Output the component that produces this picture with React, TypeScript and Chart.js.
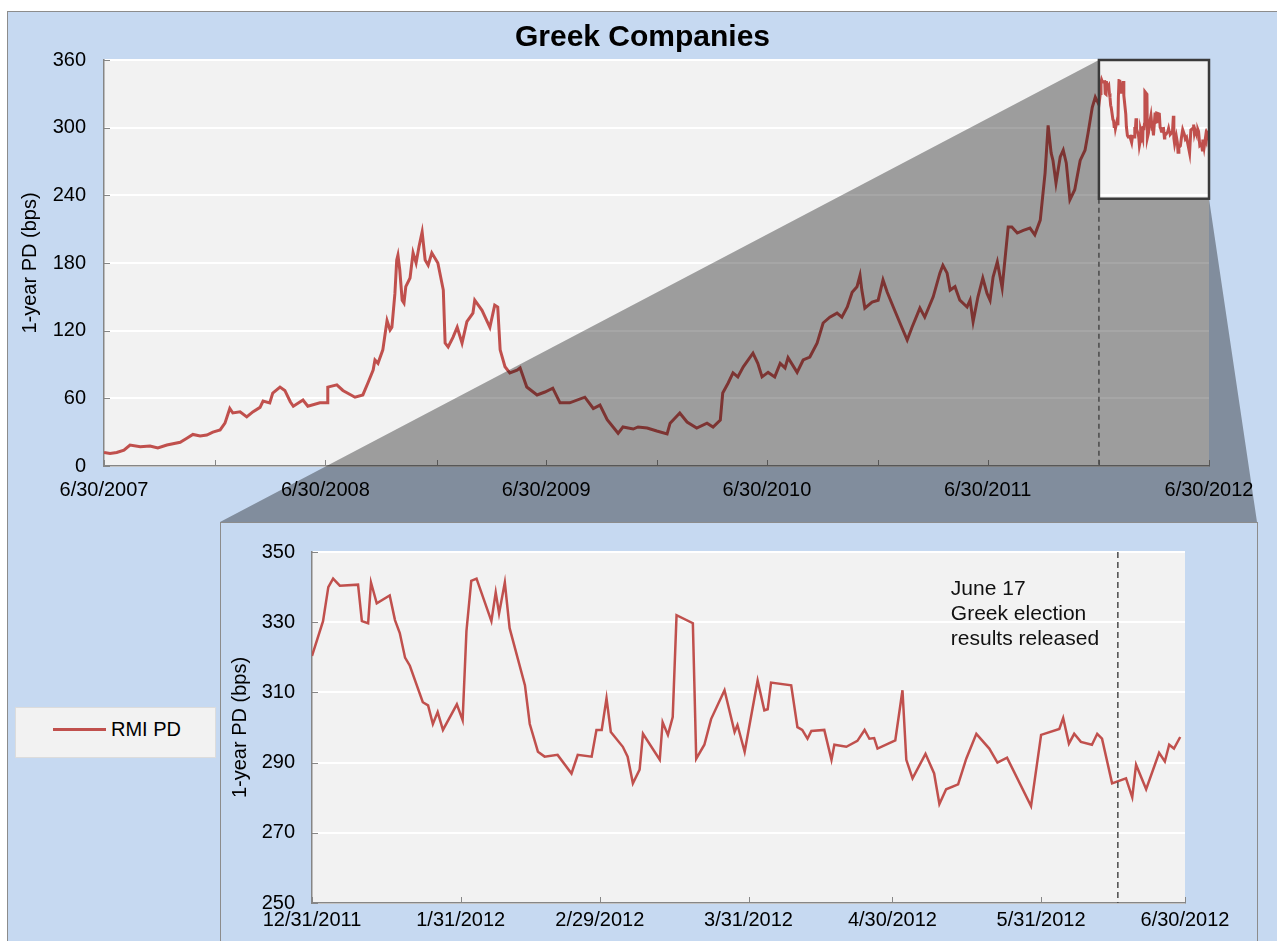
import React, { useEffect, useRef } from "react";
import { Chart, registerables } from "chart.js";

Chart.register(...registerables);

const FONT = '"Liberation Sans", Arial, Helvetica, sans-serif';
const BLUE = "#c6d9f1";
const LINE_COLOR = "#c0504d";
const AXIS_COLOR = "#868686";

// ---------- Top chart (days since 6/30/2007) ----------
const TOP_BASE = "2007-06-30";
const topTickDates = [
  "2007-06-30", "2007-12-31", "2008-06-30", "2008-12-31", "2009-06-30", "2009-12-31",
  "2010-06-30", "2010-12-31", "2011-06-30", "2011-12-31", "2012-06-30",
];
const topTickLabels = [
  "6/30/2007", "", "6/30/2008", "", "6/30/2009", "", "6/30/2010", "", "6/30/2011", "", "6/30/2012",
];
const topYTicks = [0, 60, 120, 180, 240, 300, 360];

const topDays = [
  0, 10, 21, 33, 43, 60, 76, 89, 104, 126,
  137, 147, 159, 170, 180, 192, 200, 208, 213, 225,
  236, 246, 258, 263, 274, 279, 291, 299, 308, 313,
  329, 337, 357, 369, 370, 385, 395, 415, 428, 437,
  445, 448, 453, 461, 465, 468, 473, 476, 481, 484,
  486, 489, 493, 496, 499, 506, 511, 516, 521, 526,
  531, 536, 542, 552, 561, 564, 569, 577, 584, 592,
  600, 610, 613, 625, 638, 646, 651, 655, 663, 671,
  683, 688, 699, 716, 729, 742, 754, 770, 795, 809,
  820, 832, 850, 858, 875, 883, 898, 914, 931, 936,
  952, 964, 980, 997, 1007, 1019, 1023, 1032, 1040, 1048,
  1057, 1073, 1081, 1088, 1098, 1109, 1118, 1126, 1131, 1146,
  1156, 1167, 1179, 1189, 1200, 1212, 1220, 1229, 1237, 1245,
  1250, 1253, 1258, 1270, 1280, 1288, 1295, 1305, 1319, 1328,
  1336, 1349, 1357, 1371, 1382, 1387, 1394, 1399, 1407, 1415,
  1427, 1432, 1437, 1445, 1453, 1460, 1465, 1470, 1477, 1485,
  1490, 1495, 1501, 1510, 1520, 1531, 1539, 1548, 1556, 1561,
  1566, 1569, 1574, 1581, 1586, 1591, 1597, 1605, 1614, 1622,
  1627, 1634, 1639,
];
const topValues = [
  12, 11, 12, 14, 18.6, 17, 17.7, 16, 18.6, 21,
  24.6, 28, 26.6, 27.5, 30, 32, 38, 51, 47, 48,
  43.5, 48, 52, 57.6, 56, 64.7, 70, 67, 57, 53,
  58.5, 53, 56, 56, 70, 72, 67, 61, 63, 74.5,
  85, 94, 91, 103, 118, 129, 120.6, 123, 153, 182.7,
  187, 174, 147, 144.5, 159, 166.7, 189, 180, 195, 207.5,
  182.7, 178, 189, 180, 156, 109, 105.5, 114, 123, 109,
  128, 135.6, 147, 138, 123, 142.7, 141, 103, 88, 82.5,
  85, 87, 70, 63, 65.6, 69, 56, 56, 61, 51,
  54, 41, 29, 34.6, 32.8, 34.6, 33.7, 31, 28.4, 38,
  47, 39, 33.7, 38, 34.6, 40.8, 64.7, 73.6, 82.5, 79,
  88, 100, 91, 79, 83, 79, 91, 87, 96, 83,
  94, 96.6, 109, 126.8, 132, 135.6, 132, 141, 154, 159,
  169, 156, 140, 145.4, 147, 165, 154, 141, 123, 111.7,
  123, 140, 132, 150, 171, 178, 171, 156, 159, 147,
  141, 147, 128, 150, 166.7, 153, 147, 167.6, 181, 158,
  185, 212, 212, 206.6, 209, 211, 205, 218, 260, 302,
  277.5, 271, 251, 274, 280, 268.7, 236, 245, 271, 280,
  295, 318, 327,
];

// ---------- Zoomed chart (days since 12/31/2011) ----------
const ZOOM_BASE = "2011-12-31";
const zoomTickDates = [
  "2011-12-31", "2012-01-31", "2012-02-29", "2012-03-31", "2012-04-30", "2012-05-31", "2012-06-30",
];
const zoomTickLabels = [
  "12/31/2011", "1/31/2012", "2/29/2012", "3/31/2012", "4/30/2012", "5/31/2012", "6/30/2012",
];
const zoomYTicks = [250, 270, 290, 310, 330, 350];
const zoomBoxBottom = 237; // lower value edge of the highlighted window in the top chart
const electionLineDay = 168;
const annotationLines = ["June 17", "Greek election", "results released"];

const zoomDays = [
  0, 2.3, 3.4, 4.4, 5.8, 9.6, 10.4, 11.7, 12.3, 13.5,
  16.2, 17.3, 18.3, 19.4, 20.4, 23.1, 24.2, 25.2, 26.2, 27.3,
  30.2, 31.4, 32.2, 33.2, 34.3, 37.4, 38.3, 39, 40.2, 41.2,
  44.4, 45.4, 47.1, 48.5, 51.2, 54.1, 55.4, 58.3, 59.3, 60.4,
  61.4, 62.3, 64.8, 65.8, 66.9, 68.3, 69, 72.5, 73.1, 74.2,
  75.2, 76, 79.4, 80.1, 81.8, 83.2, 86, 88.1, 88.7, 90.2,
  92.9, 94.3, 95, 95.7, 99.9, 101.2, 102.2, 103.3, 104.1, 106.8,
  108.3, 108.9, 111.4, 113.7, 115.2, 116.2, 117.2, 117.9, 121.6, 123.1,
  123.9, 125.2, 127.9, 129.7, 130.8, 132.2, 134.7, 136.4, 138.5, 141.2,
  142.9, 144.9, 149.9, 152, 155.8, 156.6, 157.8, 158.9, 160.3, 162.6,
  163.7, 164.7, 166.8, 169.7, 171, 171.8, 173.9, 176.6, 177.8, 178.7,
  179.7, 181,
];
const zoomValues = [
  320.4, 330.3, 340, 342.4, 340.4, 340.7, 330.3, 329.7, 341.3, 335.4,
  337.6, 330.6, 326.9, 319.9, 317.6, 307.2, 306.3, 301, 304.4, 299.3,
  306.6, 302.1, 327.5, 341.8, 342.4, 330.3, 338.5, 332.5, 341.3, 328.3,
  312, 301, 293.1, 291.7, 292.2, 286.9, 292.2, 291.7, 299.3, 299.3,
  308.3, 298.7, 294.5, 291.7, 284.1, 288, 298.2, 290.8, 301.5, 297.9,
  303, 332, 329.7, 291.1, 295.1, 302.4, 310.6, 298.7, 300.7, 293.1,
  313.4, 304.9, 305.2, 312.8, 312, 300.1, 299.3, 296.8, 299, 299.3,
  290.8, 295.1, 294.5, 296.2, 299.3, 296.8, 297, 294, 296.3, 310.6,
  290.8, 285.5, 292.5, 286.9, 278.2, 282.4, 283.8, 291.1, 298.2, 294,
  290, 291.4, 277.6, 297.9, 299.6, 302.7, 295.4, 298.2, 295.9, 295.1,
  298.2, 296.8, 284.1, 285.5, 280.1, 289.4, 282.4, 292.8, 290.3, 295.1,
  294, 297.3,
];

const dayDiff = (base: string, d: string) =>
  Math.round((Date.parse(d) - Date.parse(base)) / 86400000);

const topTickDays = topTickDates.map((d) => dayDiff(TOP_BASE, d));
const zoomTickDays = zoomTickDates.map((d) => dayDiff(ZOOM_BASE, d));
const zoomOffset = dayDiff(TOP_BASE, ZOOM_BASE);
const zoomEnd = zoomTickDays[zoomTickDays.length - 1];
const topEnd = topTickDays[topTickDays.length - 1];

const plotBg = {
  id: "plotBg",
  beforeDraw(chart: any) {
    const { ctx, chartArea: a } = chart;
    ctx.save();
    ctx.fillStyle = "#f2f2f2";
    ctx.fillRect(a.left, a.top, a.right - a.left, a.bottom - a.top);
    ctx.restore();
  },
};

const insideTicks = {
  id: "insideTicks",
  beforeDatasetsDraw(chart: any) {
    const { ctx, chartArea: a, scales } = chart;
    ctx.save();
    ctx.strokeStyle = AXIS_COLOR;
    ctx.lineWidth = 1;
    scales.x.ticks.forEach((t: any) => {
      const px = Math.round(scales.x.getPixelForValue(t.value)) + 0.5;
      ctx.beginPath();
      ctx.moveTo(px, a.bottom);
      ctx.lineTo(px, a.bottom - 6);
      ctx.stroke();
    });
    scales.y.ticks.forEach((t: any) => {
      const py = Math.round(scales.y.getPixelForValue(t.value)) + 0.5;
      ctx.beginPath();
      ctx.moveTo(a.left, py);
      ctx.lineTo(a.left + 6, py);
      ctx.stroke();
    });
    ctx.restore();
  },
};

// page geometry of the lower panel (for the funnel overlay)
const TOP_CANVAS = { left: 8, top: 12, width: 1269, height: 512 };
const LOW_PANEL = { left: 220, top: 522, right: 1257 };
const LOW_CANVAS = { left: 221, top: 523, width: 1036, height: 418 };

const funnel = {
  id: "funnel",
  afterDatasetsDraw(chart: any) {
    const { ctx, chartArea: a, scales } = chart;
    const bx1 = scales.x.getPixelForValue(zoomOffset);
    const bx2 = scales.x.getPixelForValue(topEnd);
    const by1 = scales.y.getPixelForValue(360);
    const by2 = scales.y.getPixelForValue(zoomBoxBottom);
    const ly = LOW_PANEL.top - TOP_CANVAS.top;
    const lx1 = LOW_PANEL.left - TOP_CANVAS.left;
    const lx2 = LOW_PANEL.right - TOP_CANVAS.left;
    ctx.save();
    ctx.fillStyle = "rgba(0,0,0,0.35)";
    ctx.beginPath();
    ctx.moveTo(bx1, by1);
    ctx.lineTo(lx1, ly);
    ctx.lineTo(lx2, ly);
    ctx.lineTo(bx2, by2);
    ctx.lineTo(bx1, by2);
    ctx.closePath();
    ctx.fill();
    ctx.strokeStyle = "#4a4a4a";
    ctx.lineWidth = 1.5;
    ctx.setLineDash([5, 4]);
    ctx.beginPath();
    ctx.moveTo(bx1, by2);
    ctx.lineTo(bx1, a.bottom);
    ctx.stroke();
    ctx.setLineDash([]);
    ctx.strokeStyle = "#3a3a3a";
    ctx.lineWidth = 2.5;
    ctx.strokeRect(bx1, by1, bx2 - bx1, by2 - by1);
    ctx.restore();
  },
};

const electionMark = {
  id: "electionMark",
  afterDatasetsDraw(chart: any) {
    const { ctx, chartArea: a, scales } = chart;
    const px = scales.x.getPixelForValue(electionLineDay);
    ctx.save();
    ctx.strokeStyle = "#4a4a4a";
    ctx.lineWidth = 1.5;
    ctx.setLineDash([6, 4]);
    ctx.beginPath();
    ctx.moveTo(px, a.top);
    ctx.lineTo(px, a.bottom);
    ctx.stroke();
    ctx.setLineDash([]);
    ctx.fillStyle = "#111";
    ctx.font = "21px " + FONT;
    ctx.textAlign = "left";
    ctx.textBaseline = "middle";
    annotationLines.forEach((t, i) => ctx.fillText(t, px - 167, a.top + 37 + i * 25));
    ctx.restore();
  },
};

export default function App() {
  const topRef = useRef<HTMLCanvasElement>(null);
  const lowRef = useRef<HTMLCanvasElement>(null);

  useEffect(() => {
    Chart.defaults.font.family = FONT;
    Chart.defaults.color = "#000";

    const topData = [
      ...topDays.map((d, i) => ({ x: d, y: topValues[i] })),
      ...zoomDays.map((d, i) => ({ x: d + zoomOffset, y: zoomValues[i] })),
    ];
    const lowData = zoomDays.map((d, i) => ({ x: d, y: zoomValues[i] }));

    const top = new Chart(topRef.current as HTMLCanvasElement, {
      type: "line",
      data: {
        datasets: [
          {
            label: "RMI PD",
            data: topData,
            borderColor: LINE_COLOR,
            borderWidth: 3,
            pointRadius: 0,
            tension: 0,
            fill: false,
          },
        ],
      },
      options: {
        animation: false,
        responsive: false,
        events: [],
        layout: { padding: { top: 0, left: 0, right: 0, bottom: 0 } },
        plugins: {
          legend: { display: false },
          tooltip: { enabled: false },
          title: {
            display: true,
            text: "Greek Companies",
            color: "#000",
            font: { size: 30, weight: "bold" },
            padding: { top: 8, bottom: 4 },
          },
        },
        scales: {
          x: {
            type: "linear",
            min: 0,
            max: topEnd,
            afterBuildTicks: (s: any) => {
              s.ticks = topTickDays.map((v) => ({ value: v }));
            },
            afterFit: (s: any) => {
              s.height = 58;
            },
            grid: { display: false, drawTicks: false },
            border: { display: true, color: AXIS_COLOR, width: 1.5 },
            ticks: {
              autoSkip: false,
              maxRotation: 0,
              minRotation: 0,
              padding: 12,
              color: "#000",
              font: { size: 20 },
              callback: (v: any) => {
                const i = topTickDays.indexOf(Number(v));
                return i >= 0 ? topTickLabels[i] : "";
              },
            },
          },
          y: {
            min: 0,
            max: 360,
            afterBuildTicks: (s: any) => {
              s.ticks = topYTicks.map((v) => ({ value: v }));
            },
            afterFit: (s: any) => {
              s.width = 96;
            },
            grid: { color: "#ffffff", lineWidth: 2, drawTicks: false },
            border: { display: true, color: AXIS_COLOR, width: 1.5 },
            ticks: { padding: 18, color: "#000", font: { size: 20 } },
            title: {
              display: true,
              text: "1-year PD (bps)",
              color: "#000",
              font: { size: 20 },
              padding: { top: 10, bottom: 0 },
            },
          },
          y2: {
            position: "right",
            display: true,
            afterFit: (s: any) => {
              s.width = 68;
            },
            grid: { display: false, drawTicks: false },
            border: { display: false },
            ticks: { display: false },
          },
        },
      } as any,
      plugins: [plotBg, insideTicks, funnel],
    });

    const low = new Chart(lowRef.current as HTMLCanvasElement, {
      type: "line",
      data: {
        datasets: [
          {
            label: "RMI PD",
            data: lowData,
            borderColor: LINE_COLOR,
            borderWidth: 2.5,
            pointRadius: 0,
            tension: 0,
            fill: false,
          },
        ],
      },
      options: {
        animation: false,
        responsive: false,
        events: [],
        layout: { padding: { top: 25, left: 0, right: 72, bottom: 0 } },
        plugins: {
          legend: { display: false },
          tooltip: { enabled: false },
          title: { display: false },
        },
        scales: {
          x: {
            type: "linear",
            min: 0,
            max: zoomEnd,
            afterBuildTicks: (s: any) => {
              s.ticks = zoomTickDays.map((v) => ({ value: v }));
            },
            afterFit: (s: any) => {
              s.height = 38;
            },
            grid: { display: false, drawTicks: false },
            border: { display: true, color: AXIS_COLOR, width: 1.5 },
            ticks: {
              autoSkip: false,
              maxRotation: 0,
              minRotation: 0,
              padding: 5,
              color: "#000",
              font: { size: 20 },
              callback: (v: any) => {
                const i = zoomTickDays.indexOf(Number(v));
                return i >= 0 ? zoomTickLabels[i] : "";
              },
            },
          },
          y: {
            min: 250,
            max: 350,
            afterBuildTicks: (s: any) => {
              s.ticks = zoomYTicks.map((v) => ({ value: v }));
            },
            afterFit: (s: any) => {
              s.width = 91;
            },
            grid: { color: "#ffffff", lineWidth: 2, drawTicks: false },
            border: { display: true, color: AXIS_COLOR, width: 1.5 },
            ticks: { padding: 17, color: "#000", font: { size: 20 } },
            title: {
              display: true,
              text: "1-year PD (bps)",
              color: "#000",
              font: { size: 20 },
              padding: { top: 7, bottom: 0 },
            },
          },
        },
      } as any,
      plugins: [plotBg, insideTicks, electionMark],
    });

    return () => {
      top.destroy();
      low.destroy();
    };
  }, []);

  return (
    <div
      style={{
        position: "fixed",
        left: 0,
        top: 0,
        width: 1277,
        height: 941,
        background: "#ffffff",
        overflow: "hidden",
        fontFamily: FONT,
      }}
    >
      <div
        style={{
          position: "absolute",
          left: 7,
          top: 11,
          width: 1290,
          height: 950,
          background: BLUE,
          borderLeft: "1px solid #8c8c8c",
          borderTop: "1px solid #8c8c8c",
        }}
      />
      <canvas
        ref={topRef}
        width={TOP_CANVAS.width}
        height={TOP_CANVAS.height}
        style={{ position: "absolute", left: TOP_CANVAS.left, top: TOP_CANVAS.top }}
      />
      <div
        style={{
          position: "absolute",
          left: LOW_PANEL.left,
          top: LOW_PANEL.top,
          width: LOW_PANEL.right - LOW_PANEL.left - 1,
          height: 440,
          background: BLUE,
          border: "1px solid #8c8c8c",
        }}
      />
      <canvas
        ref={lowRef}
        width={LOW_CANVAS.width}
        height={LOW_CANVAS.height}
        style={{ position: "absolute", left: LOW_CANVAS.left, top: LOW_CANVAS.top }}
      />
      <div
        style={{
          position: "absolute",
          left: 15,
          top: 707,
          width: 199,
          height: 49,
          background: "#f2f2f2",
          border: "1px solid #dcdcdc",
        }}
      >
        <div
          style={{
            position: "absolute",
            left: 37,
            top: 20,
            width: 53,
            height: 3,
            background: LINE_COLOR,
          }}
        />
        <span
          style={{
            position: "absolute",
            left: 95,
            top: 7,
            fontSize: 20,
            lineHeight: "28px",
            color: "#000",
            whiteSpace: "nowrap",
          }}
        >
          RMI PD
        </span>
      </div>
    </div>
  );
}
